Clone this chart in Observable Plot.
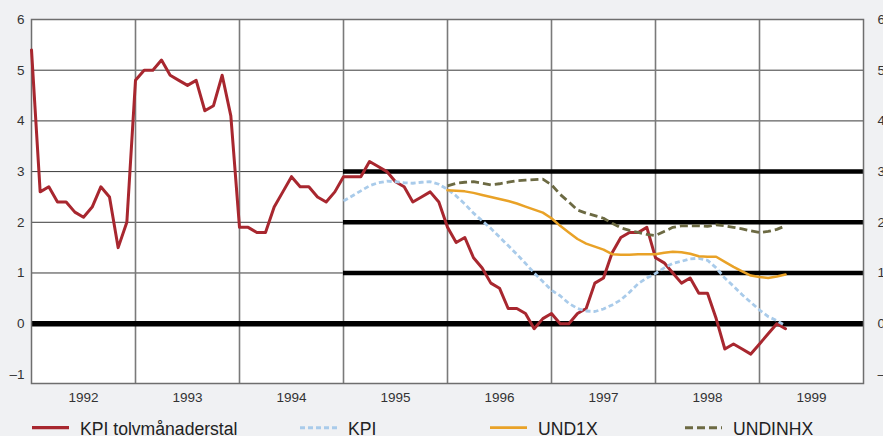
<!DOCTYPE html>
<html><head><meta charset="utf-8">
<script src="https://cdn.jsdelivr.net/npm/d3@7"></script>
<script src="https://cdn.jsdelivr.net/npm/@observablehq/plot@0.6"></script>
<style>
html,body{margin:0;padding:0;background:#f0f1f3;width:883px;height:436px;overflow:hidden;}
#chart{position:absolute;left:0;top:0;}
#legend{position:absolute;left:0;top:412px;}
</style></head>
<body>
<div id="chart"></div>
<div id="legend"></div>
<script>
// ---- data ----
const years = [1992, 1993, 1994, 1995, 1996, 1997, 1998, 1999];
const yTicks = [-1, 0, 1, 2, 3, 4, 5, 6];
const bandLevels = [1, 2, 3];
const bandStart = 1995;

// KPI tolvmånaderstal, monthly from Jan 1992
const kpiTolv = [
  5.4, 2.6, 2.7, 2.4, 2.4, 2.2, 2.1, 2.3, 2.7, 2.5, 1.5, 2.0,
  4.8, 5.0, 5.0, 5.2, 4.9, 4.8, 4.7, 4.8, 4.2, 4.3, 4.9, 4.1,
  1.9, 1.9, 1.8, 1.8, 2.3, 2.6, 2.9, 2.7, 2.7, 2.5, 2.4, 2.6,
  2.9, 2.9, 2.9, 3.2, 3.1, 3.0, 2.8, 2.7, 2.4, 2.5, 2.6, 2.4,
  1.9, 1.6, 1.7, 1.3, 1.1, 0.8, 0.7, 0.3, 0.3, 0.2, -0.1, 0.1,
  0.2, 0.0, 0.0, 0.2, 0.3, 0.8, 0.9, 1.4, 1.7, 1.8, 1.8, 1.9,
  1.3, 1.2, 1.0, 0.8, 0.9, 0.6, 0.6, 0.1, -0.5, -0.4, -0.5, -0.6,
  -0.4, -0.2, 0.0, -0.1
];
// KPI (smoothed), monthly from Jan 1995
const kpi = [
  2.42, 2.52, 2.62, 2.72, 2.78, 2.81, 2.80, 2.78, 2.77, 2.79, 2.80, 2.75,
  2.65, 2.52, 2.36, 2.18, 2.03, 1.88, 1.71, 1.54, 1.37, 1.19, 1.00, 0.83,
  0.66, 0.55, 0.40, 0.30, 0.25, 0.24, 0.29, 0.37, 0.47, 0.62, 0.79, 0.90,
  0.99, 1.10, 1.19, 1.23, 1.28, 1.29, 1.25, 1.10, 0.90, 0.74, 0.57, 0.42,
  0.27, 0.14, 0.06, -0.04
];
// UND1X, monthly from Jan 1996
const und1x = [
  2.63, 2.62, 2.61, 2.58, 2.54, 2.50, 2.46, 2.42, 2.37, 2.31, 2.25, 2.19,
  2.08, 1.93, 1.80, 1.67, 1.58, 1.52, 1.46, 1.37, 1.36, 1.36, 1.37, 1.37,
  1.37, 1.40, 1.42, 1.41, 1.38, 1.33, 1.32, 1.32, 1.22, 1.12, 1.03, 0.95,
  0.92, 0.90, 0.93, 0.97
];
// UNDINHX, monthly from Jan 1996
const undinhx = [
  2.72, 2.77, 2.79, 2.80, 2.77, 2.74, 2.76, 2.79, 2.82, 2.83, 2.84, 2.85,
  2.74, 2.55, 2.40, 2.24, 2.18, 2.13, 2.08, 1.98, 1.89, 1.84, 1.80, 1.76,
  1.74, 1.82, 1.90, 1.93, 1.93, 1.93, 1.92, 1.95, 1.93, 1.90, 1.87, 1.83,
  1.80, 1.82, 1.86, 1.93
];

const series = [
  {name: "KPI tolvmånaderstal", values: kpiTolv, start: 1992, color: "#a8272f", dash: null, width: 3},
  {name: "KPI", values: kpi, start: 1995, color: "#a9cbea", dash: "5,3", width: 2.8},
  {name: "UND1X", values: und1x, start: 1996, color: "#e9a227", dash: null, width: 2.5},
  {name: "UNDINHX", values: undinhx, start: 1996, color: "#6c6a43", dash: "8,4", width: 2.8}
];

const rows = s => s.values.map((v, i) => ({x: s.start + i / 12, y: v}));
const bandRows = bandLevels.map(y => ({y, x1: bandStart, x2: years[years.length - 1] + 1}));
const minus = d => d < 0 ? "\u2013" + Math.abs(d) : String(d);

const font = "'Liberation Sans', Arial, sans-serif";

const plot = Plot.plot({
  width: 883,
  height: 412,
  marginLeft: 31,
  marginRight: 20,
  marginTop: 19,
  marginBottom: 29,
  style: {background: "transparent", fontFamily: font, fontSize: "13.5px", color: "#333", overflow: "visible"},
  x: {domain: [years[0], years[years.length - 1] + 1]},
  y: {domain: [-1.18, 6]},
  marks: [
    Plot.frame({fill: "white"}),
    Plot.ruleY([1, 2, 3, 4, 5], {stroke: "#3a3a3a", strokeWidth: 1}),
    Plot.ruleX(years.slice(1), {stroke: "#7a7a7a", strokeWidth: 1.6}),
    Plot.ruleY(bandRows, {y: "y", x1: "x1", x2: "x2", stroke: "black", strokeWidth: 4.5}),
    Plot.ruleY([0], {stroke: "black", strokeWidth: 5.5}),
    Plot.frame({stroke: "#6e6e6e", strokeWidth: 1.5}),
    ...series.map(s => Plot.line(rows(s), {
      x: "x", y: "y", stroke: s.color, strokeWidth: s.width,
      strokeDasharray: s.dash, strokeLinecap: s.dash ? "butt" : "round", strokeLinejoin: "round"
    })),
    Plot.axisY(yTicks, {anchor: "left", tickSize: 0, tickPadding: 7, tickFormat: minus, label: null, fill: "#333"}),
    Plot.axisY(yTicks, {anchor: "right", tickSize: 0, tickPadding: 14, textAnchor: "start", tickFormat: minus, label: null, fill: "#333"}),
    Plot.axisX(years.map(y => y + 0.5), {tickSize: 0, tickPadding: 9, tickFormat: d => String(Math.floor(d)), label: null, fill: "#333"})
  ]
});
document.getElementById("chart").appendChild(plot);

// ---- legend ----
const legendX = [32, 300, 490, 685];
const lg = d3.select("#legend").append("svg")
  .attr("width", 883).attr("height", 24)
  .style("display", "block").style("overflow", "hidden");
series.forEach((s, i) => {
  const g = lg.append("g").attr("transform", `translate(${legendX[i]},0)`);
  g.append("line").attr("x1", 0).attr("x2", 37).attr("y1", 15.7).attr("y2", 15.7)
    .attr("stroke", s.color).attr("stroke-width", s.width + 0.3)
    .attr("stroke-dasharray", s.dash);
  g.append("text").attr("x", 48).attr("y", 22.8)
    .attr("font-family", font).attr("font-size", 17.6).attr("fill", "#222")
    .text(s.name);
});
</script>
</body></html>
